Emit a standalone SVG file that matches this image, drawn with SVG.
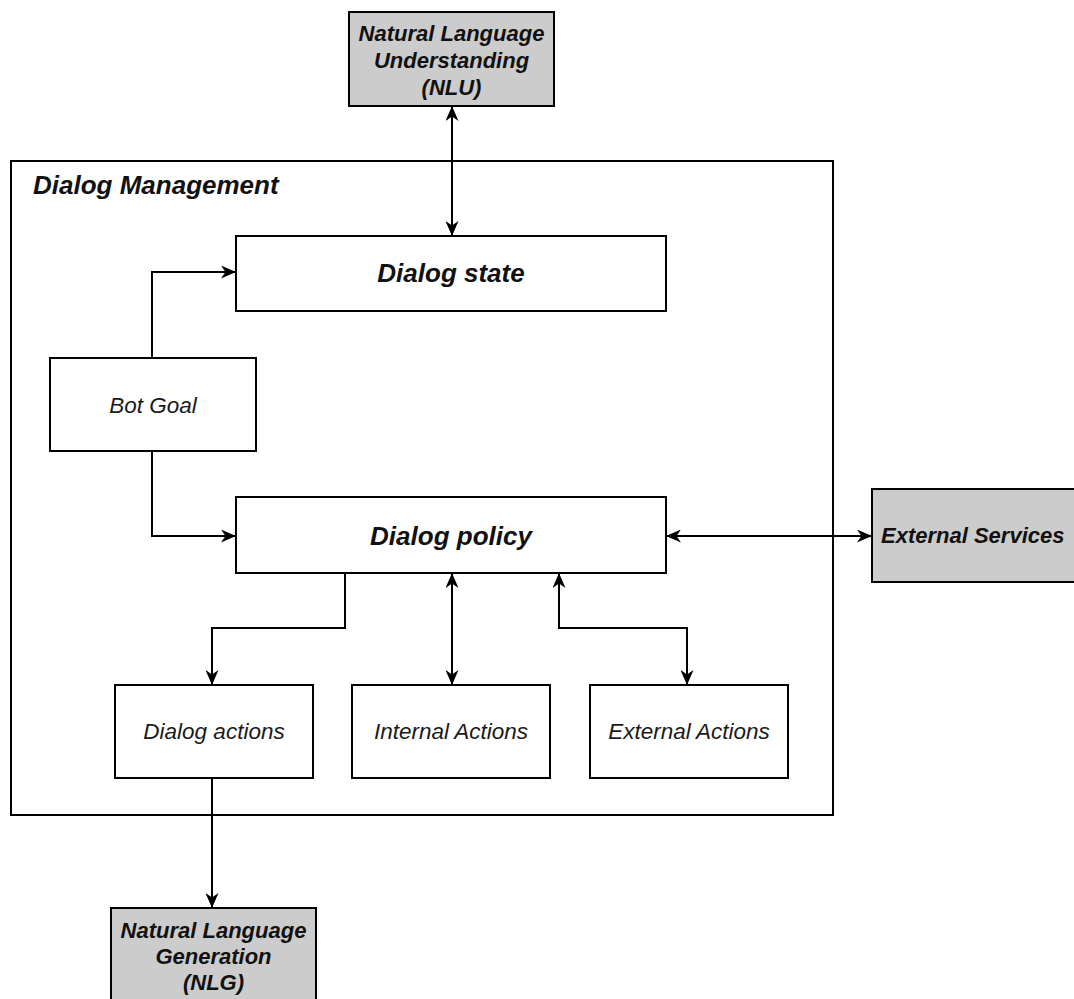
<svg xmlns="http://www.w3.org/2000/svg" width="1074" height="999" viewBox="0 0 1074 999">
  <style>
    .box { fill: #ffffff; stroke: #000000; stroke-width: 2; }
    .ext { fill: #cccccc; stroke: #000000; stroke-width: 2; }
    .frame { fill: #ffffff; stroke: #000000; stroke-width: 2; }
    .edge { fill: none; stroke: #000000; stroke-width: 2; }
    .bi { font-family: "Liberation Sans", Arial, sans-serif; font-style: italic; font-weight: bold; fill: #111111; text-anchor: middle; }
    .it { font-family: "Liberation Sans", Arial, sans-serif; font-style: italic; font-weight: normal; fill: #1a1a1a; text-anchor: middle; font-size: 22.5px; }
  </style>
  <defs>
    <marker id="arrow" viewBox="0 0 15 13" refX="14" refY="6.5" markerWidth="15" markerHeight="13" markerUnits="userSpaceOnUse" orient="auto-start-reverse">
      <path d="M0,0 L15,6.5 L0,13 L4.5,6.5 Z" fill="#000000"/>
    </marker>
  </defs>

  <!-- Dialog Management container -->
  <g id="dialog-management">
    <rect class="frame" x="11" y="161" width="822" height="654"/>
    <text class="bi" x="33" y="194" font-size="26" style="text-anchor:start">Dialog Management</text>
  </g>

  <g id="nlu">
    <rect class="ext" x="349" y="12" width="205" height="94"/>
    <text class="bi" x="451.5" y="41" font-size="22">Natural Language</text>
    <text class="bi" x="451.5" y="68" font-size="22">Understanding</text>
    <text class="bi" x="451.5" y="95" font-size="22">(NLU)</text>
  </g>

  <g id="dialog-state">
    <rect class="box" x="236" y="236" width="430" height="75"/>
    <text class="bi" x="451" y="282" font-size="26">Dialog state</text>
  </g>

  <g id="bot-goal">
    <rect class="box" x="50" y="358" width="206" height="93"/>
    <text class="it" x="153" y="413">Bot Goal</text>
  </g>

  <g id="dialog-policy">
    <rect class="box" x="236" y="497" width="430" height="76"/>
    <text class="bi" x="451" y="545" font-size="26">Dialog policy</text>
  </g>

  <g id="external-services">
    <rect class="ext" x="872" y="489" width="215" height="93"/>
    <text class="bi" x="881" y="543" font-size="22" style="text-anchor:start">External Services</text>
  </g>

  <g id="dialog-actions">
    <rect class="box" x="115" y="685" width="198" height="93"/>
    <text class="it" x="214" y="739">Dialog actions</text>
  </g>

  <g id="internal-actions">
    <rect class="box" x="352" y="685" width="198" height="93"/>
    <text class="it" x="451" y="739">Internal Actions</text>
  </g>

  <g id="external-actions">
    <rect class="box" x="590" y="685" width="198" height="93"/>
    <text class="it" x="689" y="739">External Actions</text>
  </g>

  <g id="nlg">
    <rect class="ext" x="111" y="908" width="205" height="100"/>
    <text class="bi" x="213.5" y="938" font-size="22">Natural Language</text>
    <text class="bi" x="213.5" y="964" font-size="22">Generation</text>
    <text class="bi" x="213.5" y="990" font-size="22">(NLG)</text>
  </g>

  <!-- connectors -->
  <g id="connectors">
    <path class="edge" d="M452,107 V235" marker-start="url(#arrow)" marker-end="url(#arrow)"/>
    <path class="edge" d="M152,358 V272 H235" marker-end="url(#arrow)"/>
    <path class="edge" d="M152,451 V536 H235" marker-end="url(#arrow)"/>
    <path class="edge" d="M667,536 H871" marker-start="url(#arrow)" marker-end="url(#arrow)"/>
    <path class="edge" d="M345,573 V628 H212 V684" marker-end="url(#arrow)"/>
    <path class="edge" d="M452,574 V684" marker-start="url(#arrow)" marker-end="url(#arrow)"/>
    <path class="edge" d="M559,574 V628 H687 V684" marker-start="url(#arrow)" marker-end="url(#arrow)"/>
    <path class="edge" d="M212,778 V907" marker-end="url(#arrow)"/>
  </g>
</svg>
